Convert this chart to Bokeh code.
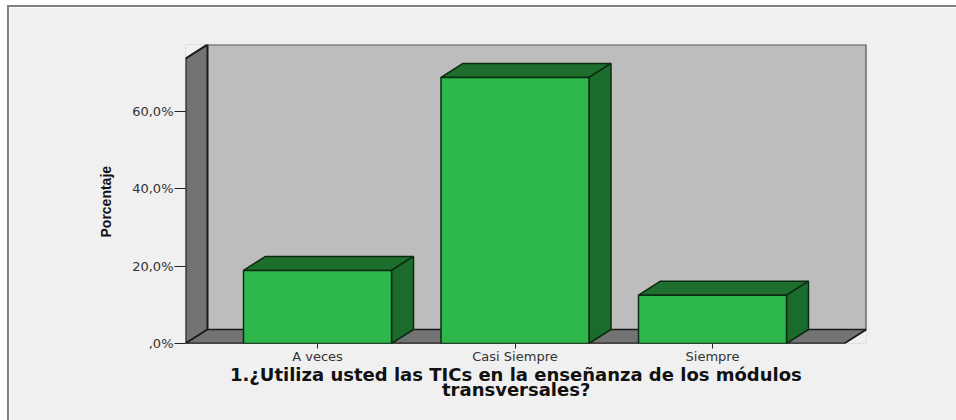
from bokeh.plotting import figure
from bokeh.models import Range1d, FixedTicker, Title
from bokeh.embed import file_html
from bokeh.resources import INLINE

categories = ["A veces", "Casi Siempre", "Siempre"]
values = [18.9, 68.8, 12.5]
y_ticks = [0, 20, 40, 60]
y_tick_labels = [",0%", "20,0%", "40,0%", "60,0%"]
x_title_lines = ["1.¿Utiliza usted las TICs en la enseñanza de los módulos", "transversales?"]
y_title = "Porcentaje"

# scale
PX_X = 197.5
PX_Y = 3.867
DX = 22 / PX_X
DY = 14 / PX_Y
BAR_W = 148 / PX_X
X0 = 1 - 132 / PX_X
X1 = X0 + 681 / PX_X
Y1 = 299 / PX_Y

p = figure(width=949, height=415, output_backend="svg", toolbar_location=None,
           x_range=Range1d(X0, X1), y_range=Range1d(0, Y1),
           background_fill_color="#bdbdbd", border_fill_color="#f0f0f0",
           outline_line_color=None, min_border_left=176, min_border_right=92,
           min_border_top=37, min_border_bottom=79,
           styles={"position": "absolute", "left": "7px", "top": "5px",
                   "border-left": "2px solid #808080", "border-top": "2px solid #808080"})
p.grid.visible = False

DARK = "#1a1a1a"
SIDE = "#737373"
BG = "#f0f0f0"
p.patch([X0, X0 + DX, X0 + DX, X0], [0, DY, Y1, Y1 - DY], fill_color=SIDE, line_color=DARK, line_width=2)
front_right = X1 - DX
p.patch([X0, X0 + DX, X1, front_right], [0, DY, DY, 0], fill_color=SIDE, line_color=DARK, line_width=1.5)
p.line([X1, X1], [DY, Y1], line_color="#404040", line_width=2)
p.line([X0 + DX, X1], [Y1, Y1], line_color="#606060", line_width=2)
p.patch([X0, X0 + DX, X0], [Y1 - DY, Y1, Y1], fill_color=BG, line_color=None)
p.line([X0, X0 + DX], [Y1 - DY, Y1], line_color=DARK, line_width=2)
p.patch([X1, front_right, X1], [DY, 0, 0], fill_color=BG, line_color=None)
p.line([X1, front_right], [DY, 0], line_color=DARK, line_width=1.5)
p.line([X0, front_right], [0, 0], line_color=DARK, line_width=1.5)

for i, v in enumerate(values, start=1):
    l, r = i - BAR_W / 2, i + BAR_W / 2
    p.patch([l, l + DX, r + DX, r], [v, v + DY, v + DY, v], fill_color="#1e6e2e", line_color="#0c2a12", line_width=1.5)
    p.patch([r, r + DX, r + DX, r], [0, DY, v + DY, v], fill_color="#1b6b2c", line_color="#0c2a12", line_width=1.5)
    p.patch([l, r, r, l], [0, 0, v, v], fill_color="#2eb84c", line_color="#0c2a12", line_width=1.5)

p.yaxis.ticker = FixedTicker(ticks=y_ticks)
p.yaxis.major_label_overrides = dict(zip(y_ticks, y_tick_labels))
p.yaxis.axis_line_color = None
p.yaxis.major_tick_line_color = "#222222"
p.yaxis.major_tick_out = 11
p.yaxis.major_tick_in = 0
p.yaxis.minor_tick_line_color = None
p.yaxis.major_label_text_font = "DejaVu Sans"
p.yaxis.major_label_text_font_size = "13px"
p.yaxis.major_label_text_color = "#333333"
p.yaxis.major_label_standoff = 1
p.add_layout(Title(text=y_title, align="left", offset=106, standoff=31, text_font="Liberation Sans",
                   text_font_style="bold", text_font_size="14px", text_color="#111111"), "left")

p.xaxis.ticker = FixedTicker(ticks=[1, 2, 3])
p.xaxis.major_label_overrides = dict(zip([1, 2, 3], categories))
p.xaxis.axis_line_color = None
p.xaxis.major_tick_line_color = "#222222"
p.xaxis.major_tick_out = 5
p.xaxis.major_tick_in = 0
p.xaxis.minor_tick_line_color = None
p.xaxis.major_label_text_font = "DejaVu Sans"
p.xaxis.major_label_text_font_size = "13px"
p.xaxis.major_label_text_color = "#333333"
p.xaxis.major_label_standoff = 0

for line, off, gap in zip(x_title_lines, (44.5, 256.5), (-9, -7)):
    p.add_layout(Title(text=line, align="left", offset=off, standoff=gap, text_font="DejaVu Sans",
                       text_font_style="bold", text_font_size="18px", text_line_height=0.75,
                       text_color="#111111"), "below")

open("out.html", "w").write(file_html(p, INLINE))
